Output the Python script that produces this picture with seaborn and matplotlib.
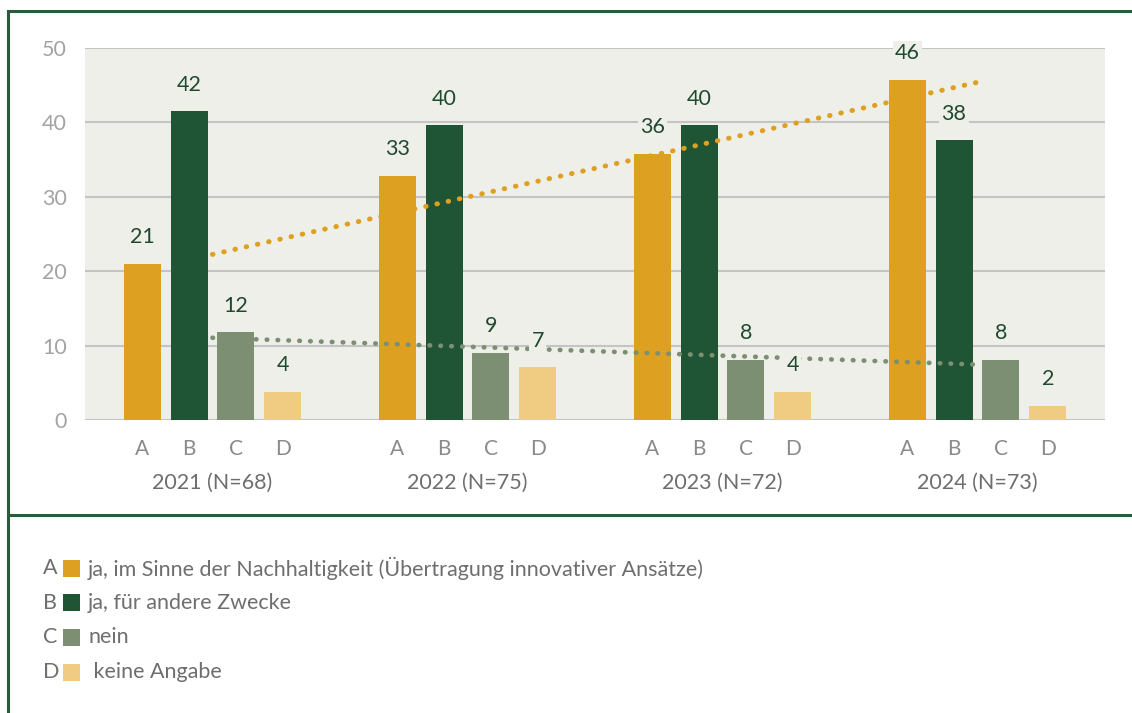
import numpy as np
import pandas as pd
import matplotlib
matplotlib.use('Agg')
import matplotlib.pyplot as plt
import matplotlib.patches as mpatches
import matplotlib.transforms as mtransforms
import seaborn as sns

# Daten (Prozent)
years = ['2021 (N=68)', '2022 (N=75)', '2023 (N=72)', '2024 (N=73)']
cats = ['A', 'B', 'C', 'D']
vals_a = [21.0, 32.8, 35.8, 45.7]
vals_b = [41.5, 39.6, 39.6, 37.6]
vals_c = [11.8, 9.0, 8.1, 8.1]
vals_d = [3.8, 7.1, 3.8, 1.9]
legend_texts = ['ja, im Sinne der Nachhaltigkeit (Übertragung innovativer Ansätze)',
                'ja, für andere Zwecke',
                'nein',
                ' keine Angabe']

colors = {'A': '#DEA020', 'B': '#1F5434', 'C': '#7D8F73', 'D': '#EFCC82'}
BG = '#EFEFEA'
FRAME = '#2C5B3B'
LABEL_GREEN = '#1F4A2E'
GRAY_TXT = '#6E6E6E'

sns.set_theme(style='white')
plt.rcParams['font.family'] = ['Lato', 'DejaVu Sans']

df = pd.DataFrame({
    'year': np.repeat(years, 4),
    'cat': cats * 4,
    'value': np.ravel(np.column_stack([vals_a, vals_b, vals_c, vals_d])),
})

W, H = 1132, 713
fig = plt.figure(figsize=(W / 100, H / 100), dpi=100)
ax = fig.add_axes([85 / W, (H - 420) / H, 1020 / W, (420 - 48) / H])
ax.set_facecolor(BG)

group_w = 0.736
sns.barplot(data=df, x='year', y='value', hue='cat', order=years, hue_order=cats,
            palette=colors, width=group_w, gap=0.21, saturation=1, legend=False,
            ax=ax, zorder=2, errorbar=None, linewidth=0, edgecolor='none')

ax.set_xlim(-0.5, 3.5)
ax.set_ylim(0, 50)
ax.set_yticks(range(0, 51, 10))
ax.yaxis.grid(True, color='#C4C4C4', linewidth=1.5, zorder=0)
ax.set_axisbelow(True)
for s in ax.spines.values():
    s.set_visible(False)
ax.tick_params(axis='y', length=0, pad=13, labelsize=15.5, labelcolor='#A3A3A3')
ax.set_xlabel('')
ax.set_ylabel('')

# Buchstaben unter den Balken, Jahr darunter
slot = group_w / 4
offsets = (np.arange(4) - 1.5) * slot
pos = [i + o for i in range(4) for o in offsets]
ax.set_xticks(pos)
ax.set_xticklabels(cats * 4)
ax.tick_params(axis='x', length=0, pad=14, labelsize=15, labelcolor='#8A8A8A')
trans = mtransforms.blended_transform_factory(ax.transData, ax.transAxes)
for i, y in enumerate(years):
    ax.text(i, -0.17, y, transform=trans, ha='center', va='center',
            fontsize=15.5, color=GRAY_TXT)

# Trendlinien (linear) für A und C
xs = np.arange(4)
for v, col, lw in [(vals_a, colors['A'], 3.6), (vals_c, colors['C'], 3.4)]:
    k, d = np.polyfit(xs, v, 1)
    ax.plot(xs[[0, -1]], k * xs[[0, -1]] + d, color=col, lw=lw,
            linestyle=(0, (0.1, 2.2)), dash_capstyle='round', zorder=3)

# Wertebeschriftungen
for cont in ax.containers:
    labels = ax.bar_label(cont, fmt='{:.0f}', padding=12, fontsize=15.5,
                          color=LABEL_GREEN, zorder=5)
    for t in labels:
        t.set_bbox(dict(facecolor=BG, edgecolor='none', pad=1.5))

# Rahmen
frame = mpatches.Rectangle((8 / W, -0.1), 1.2, (H - 11) / H + 0.1, transform=fig.transFigure,
                           fill=False, edgecolor=FRAME, linewidth=2.2, clip_on=False)
fig.add_artist(frame)
fig.add_artist(plt.Line2D([8 / W, 1.0], [(H - 515) / H] * 2, transform=fig.transFigure,
                          color=FRAME, linewidth=2.2))

# Legende
for i, (c, txt) in enumerate(zip(cats, legend_texts)):
    yc = (H - (568 + i * 34.7)) / H
    fig.text(43 / W, yc, c, ha='left', va='center', fontsize=15.5, color=GRAY_TXT)
    fig.add_artist(mpatches.Rectangle((63 / W, yc - 8.5 / H), 17 / W, 17 / H,
                                      transform=fig.transFigure, facecolor=colors[c],
                                      edgecolor='none'))
    fig.text(88 / W, yc, txt, ha='left', va='center', fontsize=15.5, color=GRAY_TXT)

fig.savefig('out.png', dpi=100)
